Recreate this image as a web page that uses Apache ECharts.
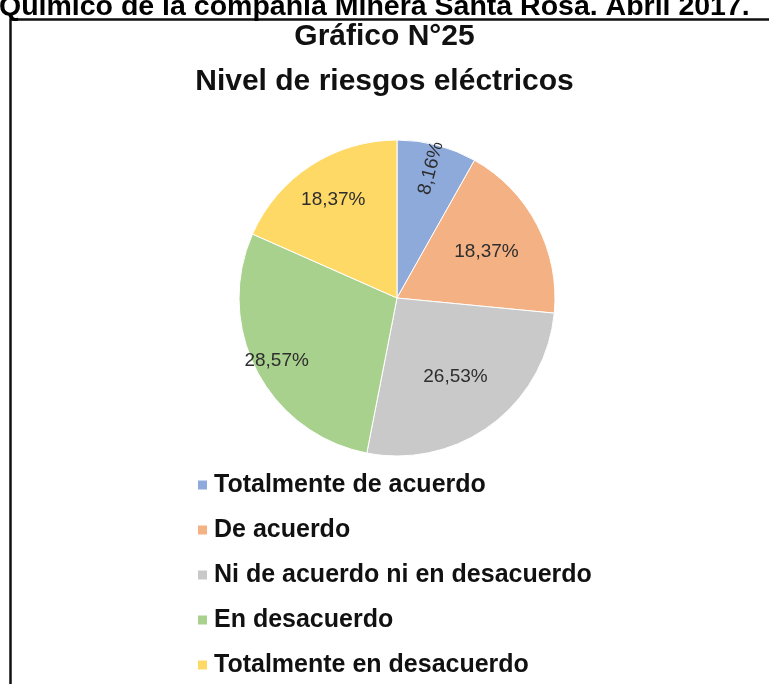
<!DOCTYPE html>
<html>
<head>
<meta charset="utf-8">
<script src="https://cdn.jsdelivr.net/npm/echarts@6/dist/echarts.min.js"></script>
<style>
html,body{margin:0;padding:0;background:#fff;}
#chart{width:769px;height:684px;}
</style>
</head>
<body>
<div id="chart"></div>
<script>
const categories = ["Totalmente de acuerdo","De acuerdo","Ni de acuerdo ni en desacuerdo","En desacuerdo","Totalmente en desacuerdo"];
const values = [8.16, 18.37, 26.53, 28.57, 18.37];
const colors = ["#8eaadb","#f4b183","#c9c9c9","#a9d18e","#ffd966"];
const headerText = "Químico de la compañía Minera Santa Rosa. Abril 2017.";
const titleLine1 = "Gráfico N°25";
const titleLine2 = "Nivel de riesgos eléctricos";

// label placement: fraction of radius where each label sits (Excel best fit)
const labelRadiusFrac = [0.83, 0.62, 0.60, 0.84, 0.72];
const radialLabel = [true, false, false, false, false];
const R = 158;

const total = values.reduce((a,b)=>a+b,0);
const midAngles = [];
let cum = 0;
values.forEach(v => { midAngles.push((cum + v/2)/total*2*Math.PI); cum += v; });

const font = 'Liberation Sans, Arial';
const chart = echarts.init(document.getElementById('chart'));
chart.setOption({
  animation: false,
  backgroundColor: '#fff',
  color: colors,
  title: [
    { text: headerText, left: -1, top: -7, padding: 0,
      textStyle: { fontFamily: font, fontWeight: 'bold', fontSize: 28.5, color: '#000' } },
    { text: titleLine1, left: 'center', top: 22, padding: [0,0,0,18],
      textStyle: { fontFamily: font, fontWeight: 'bold', fontSize: 30, lineHeight: 30, color: '#111' } },
    { text: titleLine2, left: 'center', top: 67, padding: [0,0,0,22],
      textStyle: { fontFamily: font, fontWeight: 'bold', fontSize: 30, lineHeight: 30, color: '#111' } }
  ],
  legend: {
    orient: 'vertical', left: 196, top: 470, padding: 0,
    itemWidth: 11, itemHeight: 11, itemGap: 15, icon: 'rect',
    selectedMode: false,
    textStyle: { fontFamily: font, fontWeight: 'bold', fontSize: 25, lineHeight: 30, color: '#111', padding: [0,0,0,1] },
    data: categories
  },
  graphic: [
    { type: 'rect', left: 8, top: 17, shape: { width: 800, height: 720 },
      style: { fill: 'none', stroke: '#111', lineWidth: 2.5 }, silent: true }
  ],
  series: [{
    type: 'pie',
    center: [397, 298],
    radius: [0, R],
    startAngle: 90,
    clockwise: true,
    avoidLabelOverlap: false,
    itemStyle: { borderColor: '#fff', borderWidth: 1 },
    label: {
      show: true, position: 'inside',
      formatter: p => p.value.toFixed(2).replace('.', ',') + '%',
      fontFamily: font, fontSize: 19, color: '#2e2e2e'
    },
    labelLine: { show: false },
    labelLayout: function (p) {
      const i = p.dataIndex;
      const d = (labelRadiusFrac[i] - 0.5) * R;
      if (radialLabel[i]) return { dx: d, dy: 0 };
      return { dx: d * Math.sin(midAngles[i]), dy: -d * Math.cos(midAngles[i]) };
    },
    data: categories.map((c, i) => ({
      name: c, value: values[i],
      label: radialLabel[i] ? { rotate: 'radial' } : undefined
    }))
  }]
});
</script>
</body>
</html>
